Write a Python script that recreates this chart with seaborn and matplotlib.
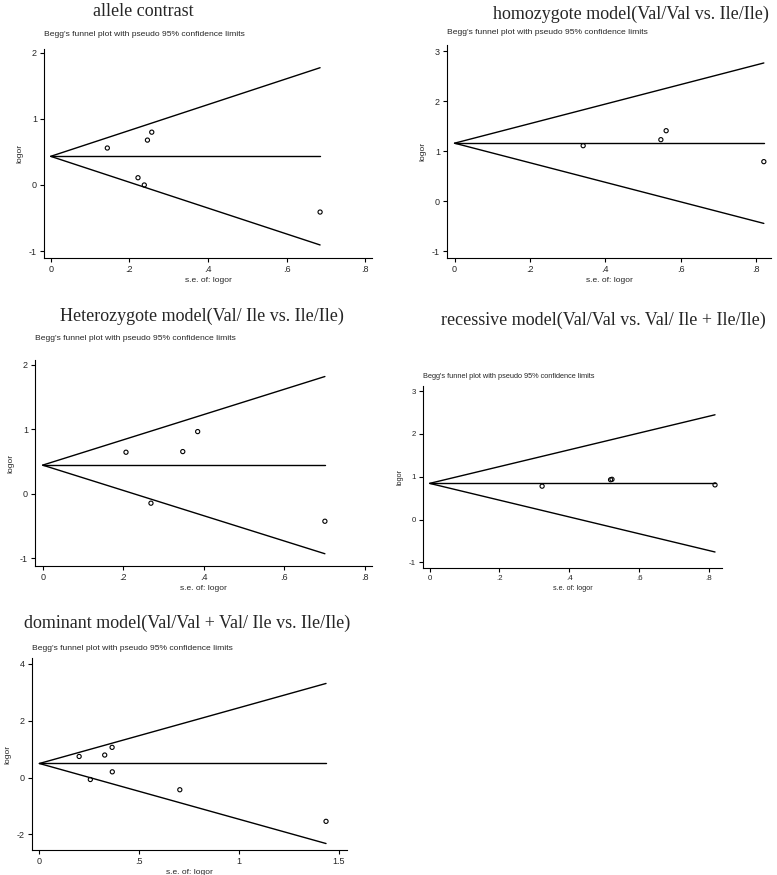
import matplotlib
matplotlib.use("Agg")
import matplotlib.pyplot as plt
import seaborn as sns

# Begg's funnel plots: standard errors and log odds ratios
titles = ["allele contrast",
          "homozygote model(Val/Val vs. Ile/Ile)",
          "Heterozygote model(Val/ Ile vs. Ile/Ile)",
          "recessive model(Val/Val vs. Val/ Ile + Ile/Ile)",
          "dominant model(Val/Val + Val/ Ile vs. Ile/Ile)"]

se_allele = [0.144, 0.246, 0.257, 0.222, 0.238, 0.685]
lor_allele = [0.56, 0.68, 0.80, 0.11, 0.00, -0.41]

se_homo = [0.341, 0.547, 0.561, 0.820]
lor_homo = [1.11, 1.23, 1.41, 0.79]

se_hetero = [0.207, 0.348, 0.385, 0.269, 0.701]
lor_hetero = [0.64, 0.65, 0.96, -0.15, -0.43]

se_rec = [0.322, 0.518, 0.522, 0.817]
lor_rec = [0.78, 0.93, 0.94, 0.81]

se_dom = [0.199, 0.327, 0.364, 0.255, 0.365, 0.703, 1.435]
lor_dom = [0.74, 0.79, 1.06, -0.07, 0.20, -0.43, -1.54]

pooled = [0.434, 1.16, 0.44, 0.845, 0.493]

xticks = [[0, 0.2, 0.4, 0.6, 0.8]] * 4 + [[0, 0.5, 1, 1.5]]
xticklabels = [["0", ".2", ".4", ".6", ".8"]] * 4 + [["0", ".5", "1", "1.5"]]
yticks = [[-1, 0, 1, 2], [-1, 0, 1, 2, 3], [-1, 0, 1, 2], [-1, 0, 1, 2, 3], [-2, 0, 2, 4]]

W, H = 777, 875
# axes boxes in pixels: left, top, right, bottom
boxes = [(44, 49, 372, 258), (447, 45, 771, 258), (35, 360, 372, 566),
         (423, 386, 722, 568), (32, 658, 347, 850)]
xlims = [(-0.017, 0.817), (-0.020, 0.839), (-0.019, 0.818), (-0.019, 0.837), (-0.037, 1.54)]
ylims = [(-1.106, 2.06), (-1.14, 3.127), (-1.124, 2.07), (-1.13, 3.118), (-2.547, 4.2)]
title_pos = [(143, 12), (631, 14), (202, 316), (603, 320), (187, 623)]
sub_y = [34, 33, 339, 376, 648]
scale = [1.0, 1.0, 1.0, 0.87, 1.0]

sns.set_style("ticks")
plt.rcParams['font.family'] = ['Liberation Sans', 'DejaVu Sans']
plt.rcParams['axes.unicode_minus'] = False

fig = plt.figure(figsize=(W / 100, H / 100), dpi=100)

data = [(se_allele, lor_allele), (se_homo, lor_homo), (se_hetero, lor_hetero),
        (se_rec, lor_rec), (se_dom, lor_dom)]

for i, (se, lor) in enumerate(data):
    l, t, r, b = boxes[i]
    ax = fig.add_axes([l / W, 1 - b / H, (r - l) / W, (b - t) / H])
    s = scale[i]
    p = pooled[i]
    m = max(se)

    # funnel: pooled estimate +/- 1.96 * se
    sns.lineplot(x=[0, m], y=[p, p], color="black", lw=1, ax=ax)
    sns.lineplot(x=[0, m], y=[p, p + 1.96 * m], color="black", lw=1, ax=ax)
    sns.lineplot(x=[0, m], y=[p, p - 1.96 * m], color="black", lw=1, ax=ax)
    sns.scatterplot(x=se, y=lor, ax=ax, marker="o", s=9, facecolor="none",
                    edgecolor="black", linewidth=0.8)

    ax.set_xlim(*xlims[i])
    ax.set_ylim(*ylims[i])
    ax.set_xticks(xticks[i])
    ax.set_xticklabels(xticklabels[i])
    ax.set_yticks(yticks[i])
    ax.tick_params(labelsize=6.5 * s, length=3, width=0.8, pad=2, color="black")
    for sp in ["top", "right"]:
        ax.spines[sp].set_visible(False)
    for sp in ["left", "bottom"]:
        ax.spines[sp].set_linewidth(0.8)
        ax.spines[sp].set_color("black")
    ax.set_xlabel("s.e. of: logor", fontsize=6 * s, labelpad=2)
    ax.set_ylabel("logor", fontsize=6 * s, labelpad=4)

    fig.text(l / W, 1 - sub_y[i] / H, "Begg's funnel plot with pseudo 95% confidence limits",
             fontsize=6.1 * s, ha="left", va="center")
    tx, ty = title_pos[i]
    fig.text(tx / W, 1 - ty / H, titles[i], fontsize=13, family="Liberation Serif",
             ha="center", va="center")

fig.savefig("out.png", dpi=100, facecolor="white")
